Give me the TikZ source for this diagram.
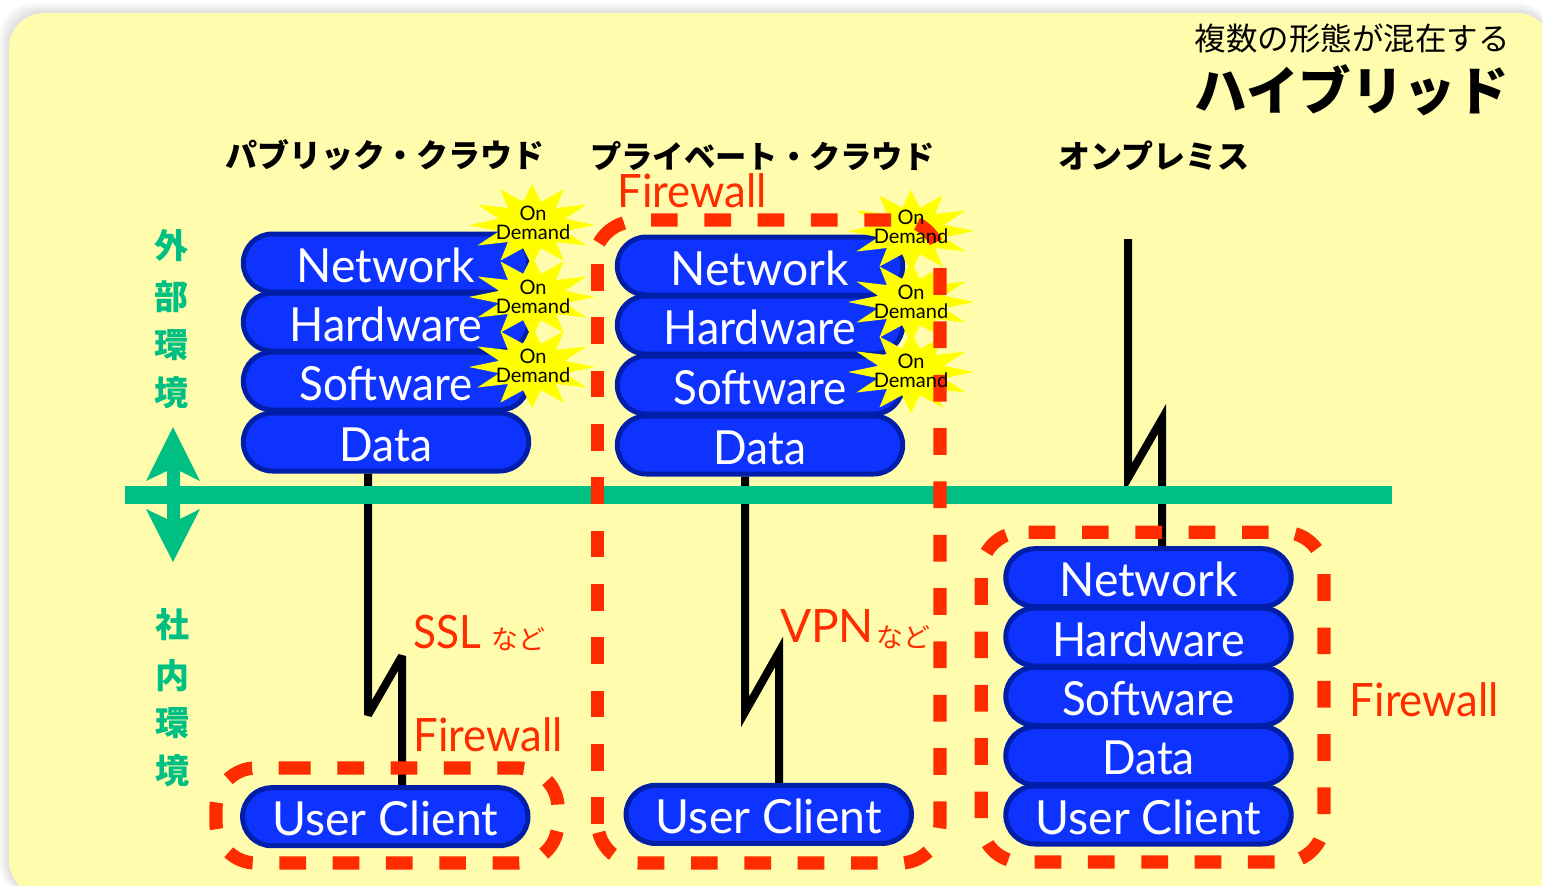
\documentclass[tikz,border=0pt]{standalone}
\usepackage{fontspec}
\setmainfont{Lato}
\newfontfamily\cjk{Noto Sans CJK JP}
\usetikzlibrary{shapes.misc,calc}
\definecolor{bgy}{HTML}{FFFDAD}
\definecolor{pillf}{HTML}{0F33FF}
\definecolor{pilld}{HTML}{001EA8}
\definecolor{fwred}{HTML}{FF2C00}
\definecolor{grn}{HTML}{00BF83}
\definecolor{stary}{HTML}{FFFF00}
\newcommand{\fsz}[1]{\fontsize{#1}{#1}\selectfont}
\newcommand{\sx}[2]{\scalebox{#1}[1]{#2}}
\newcommand{\burst}[2]{\fill[stary] ($(#1,#2)+(63,0)$) \foreach \i in {0,...,11}{ -- ($(#1,#2)+({\i*30}:63 and 41)$) -- ($(#1,#2)+({\i*30+15}:34 and 24)$)} -- cycle;}
\newcommand{\Nw}{\sx{.985}{Network}}
\newcommand{\Hw}{\sx{.955}{Hardware}}
\newcommand{\Sw}{\sx{.935}{Software}}
\newcommand{\Da}{\sx{.94}{Data}}
\newcommand{\Uc}{\sx{.985}{User Client}}
\newcommand{\Fw}{\sx{.95}{Firewall}}
\tikzset{
  x=1pt,y=-1pt,
  pill/.style={rounded rectangle,draw=pilld,fill=pillf,line width=5pt,minimum width=285.4pt,minimum height=58pt,inner sep=0pt,text=white,font=\fsz{47},text height=38pt,text depth=0pt,anchor=center},
  fw/.style={draw=fwred,line width=13.3pt,dash pattern=on 26.7pt off 26.63pt,rounded corners=40pt},
  link/.style={draw=black,line width=8pt,miter limit=20},
  redlabel/.style={text=fwred,font=\fsz{46},inner sep=0pt},
  small/.style={text=fwred,font=\cjk\fsz{27},inner sep=0pt},
  head/.style={font=\cjk\bfseries\fsz{32},inner sep=0pt},
  side/.style={text=grn,font=\cjk\bfseries\fsz{34},inner sep=0pt},
  burstlabel/.style={font=\fsz{20},align=center,inner sep=0pt,text=black},
}
\begin{document}
\begin{tikzpicture}
\useasboundingbox (0,0) rectangle (1542,886);
\fill[white] (0,0) rectangle (1542,886);
\foreach \g in {10,8,6,4,2}{
  \fill[black,opacity=.025,rounded corners=35pt] (9-\g,13-\g) rectangle (1552,896);
}
\fill[bgy,rounded corners=35pt] (9,13) rectangle (1552,896);

% titles
\node[font=\cjk\fsz{31.5},inner sep=0pt,anchor=east] (t1) at (1510,39) {複数の形態が混在する};
\node[font=\cjk\bfseries\fsz{52.5},inner sep=0pt,anchor=east] (t2) at (1509,90) {ハイブリッド};
\node[head,anchor=west] (h1) at (225,155) {パブリック・クラウド};
\node[head,anchor=west] (h2) at (590,156) {\fontsize{31.3}{31.3}\selectfont プライベート・クラウド};
\node[head,anchor=west] (h3) at (1058,156) {オンプレミス};

% side labels
\node[side] (s1) at (171,246) {外};
\node[side] (s2) at (171,297) {部};
\node[side] (s3) at (171,345) {環};
\node[side] (s4) at (171,393) {境};
\node[side] (s5) at (172,625) {社};
\node[side] (s6) at (172,676) {内};
\node[side] (s7) at (172,723) {環};
\node[side] (s8) at (172,771) {境};

% connector points
\coordinate (a1) at (368,715);
\coordinate (a2) at (402,656);
\coordinate (m1) at (745,712);
\coordinate (m2) at (779,652);
\coordinate (c1) at (1128,478);
\coordinate (c2) at (1162,419);
\coordinate (c0) at (1128,239);

% pills
\foreach \n/\t/\y in {pn/\Nw/263,ph/\Hw/322,ps/\Sw/381,pd/\Da/442}
  \node[pill] (\n) at (386,\y) {\t};
\node[pill] (pu) at (385.3,816.7) {\Uc};
\foreach \n/\t/\y in {vn/\Nw/266,vh/\Hw/325,vs/\Sw/385,vd/\Da/445}
  \node[pill] (\n) at (760,\y) {\t};
\node[pill] (vu) at (768.8,814.4) {\Uc};
\foreach \n/\t/\y in {on/\Nw/577.7,oh/\Hw/637,os/\Sw/696.3,ot/\Da/755.7,ou/\Uc/815}
  \node[pill] (\n) at (1148.5,\y) {\t};

% connectors
\draw[link,line join=bevel] (a1 |- pd.south) -- (a1) -- (a2) -- (a2 |- pu.north);
\draw[link] (m1 |- vd.south) -- (m1) -- (m2) -- (m2 |- vu.north);
\draw[link] (c0) -- (c1) -- (c2) -- (c2 |- on.north);

% bar and arrow
\fill[grn] (125,486) rectangle (1392,504);
\fill[grn] (173,427) -- (200,481) -- (180,471) -- (180,519) -- (200,509) -- (173,562) -- (146,509) -- (167,519) -- (167,471) -- (146,481) -- cycle;

% bursts
\burst{532}{225}\burst{532}{297}\burst{532}{367}
\burst{911}{231}\burst{911}{302}\burst{911}{372}

% firewalls
\draw[fw] (284,768) -- (558,768) -- (558,863) -- (216,863) -- (216,768) -- (284,768);
\draw[fw] (651,220) -- (940,220) -- (940,863) -- (597.7,863) -- (597.7,823);
\draw[fw] (597.7,824) -- (597.7,264);
\draw[draw=fwred,line width=13.3pt] (599,243) .. controls (604,234) and (613,226) .. (624,223);
\draw[fw] (1028.7,532.3) -- (1324,532.3) -- (1324,862) -- (981.3,862) -- (981.3,532.3) -- (1028.7,532.3);

% burst text
\foreach \n/\x/\y in {b1/533/223,b2/533/296.5,b3/533/366,b4/911/226.5,b5/911/302,b6/911/371}
  \node[burstlabel] (\n) at (\x,\y) {On\\[-1pt]Demand};

% red labels
\node[redlabel] (f1) at (692.5,191) {\Fw};
\node[redlabel] (f2) at (488.5,735) {\Fw};
\node[redlabel] (f3) at (1424.5,700) {\Fw};
\node[redlabel,anchor=west] (l1) at (413,632) {\sx{.92}{SSL}};
\node[small,anchor=west] (l2) at (491,639) {など};
\node[redlabel,anchor=west] (l3) at (780,626) {VPN};
\node[small,anchor=west] (l4) at (876,637) {など};
\end{tikzpicture}
\end{document}
